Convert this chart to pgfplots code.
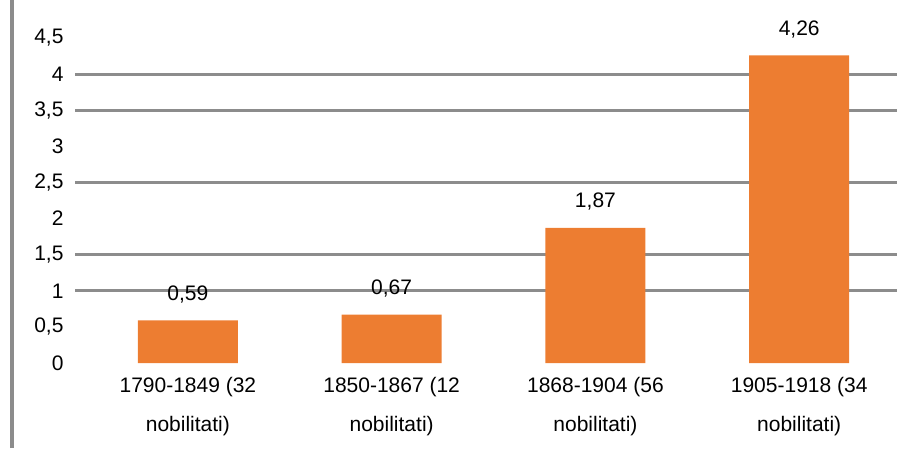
\documentclass[border=0pt]{standalone}
\usepackage{pgfplots}
\pgfplotsset{compat=1.18}
\usepackage{fontspec}
\setmainfont{Liberation Sans}
\definecolor{barorange}{HTML}{ED7D31}
\definecolor{gridgray}{HTML}{8C8C8C}
\begin{document}
\begin{tikzpicture}[x=1pt,y=1pt]
\path[use as bounding box] (0,0) rectangle (897,448);
\draw[gridgray, line width=4pt] (12,0) -- (12,448);
\begin{axis}[
  at={(75pt,85pt)}, anchor=south west,
  scale only axis, width=822pt, height=325pt,
  xmin=-0.554, xmax=3.48, ymin=0, ymax=4.5,
  ybar, bar width=100pt,
  axis line style={draw=none}, major tick length=0pt,
  ytick={0,0.5,1,1.5,2,2.5,3,3.5,4,4.5},
  yticklabel style={/pgf/number format/use comma,/pgf/number format/assume math mode=true,
    font=\fontsize{21}{24}\selectfont, xshift=-8pt},
  extra y ticks={1,1.5,2.5,3.5,4}, extra y tick labels={},
  extra y tick style={grid=major, major grid style={gridgray, line width=3pt}},
  xtick={0,1,2,3},
  xticklabels={{1790-1849 (32\\nobilitati)},{1850-1867 (12\\nobilitati)},{1868-1904 (56\\nobilitati)},{1905-1918 (34\\nobilitati)}},
  xticklabel style={align=center, font=\fontsize{21}{39}\selectfont, yshift=-11pt},
  point meta=explicit symbolic,
  nodes near coords,
  every node near coord/.append style={font=\fontsize{21}{24}\selectfont, anchor=center, yshift=26pt},
]
\addplot[fill=barorange, draw=none] coordinates {(0,0.59) [0,59] (1,0.67) [0,67] (2,1.87) [1,87] (3,4.26) [4,26]};
\end{axis}
\end{tikzpicture}
\end{document}
